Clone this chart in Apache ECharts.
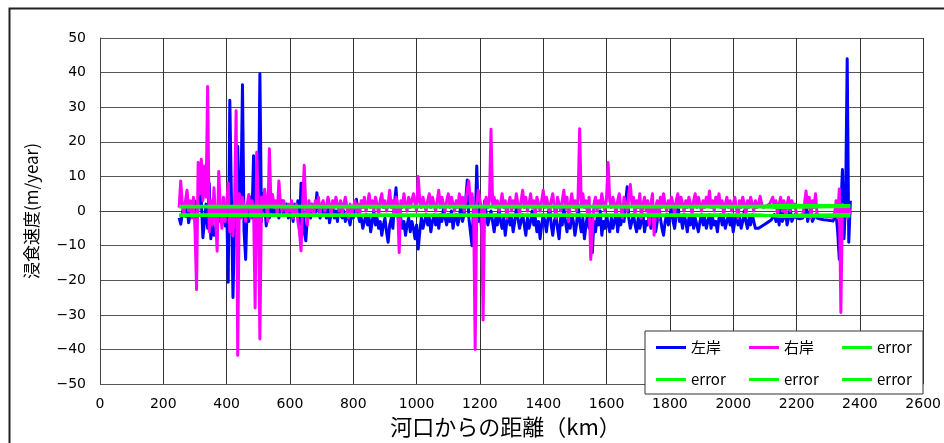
<!DOCTYPE html>
<html><head><meta charset="utf-8">
<script src="https://cdn.jsdelivr.net/npm/echarts@6/dist/echarts.min.js"></script>
<style>html,body{margin:0;padding:0;background:#fff}#c{width:944px;height:443px}</style>
</head><body><div id="c"></div>
<script>
// distance from river mouth (km): first point and spacing of the cross-sections
const kmStart = 250;
const kmStep = 5;

// 左岸 (left bank) erosion rate, m/year — one row = 100 km
const leftBank = [
  -2,-3.8,-1,2,-1.5,1,-3.4,-1,2.5,-2, 2.9,-3,1,13.5,3,-7.7,-3,2,-5,8,
  -8,-4,-7,-6,1,-3,2,-3.4,1.4,-4.3, 2,-20.6,32,4,-25,-3,5,18.7,-2,3,
  36.5,-5.8,-14,2,-3,4,-2,16,3,-10, -5.3,39.7,-3,5,2,-4.3,1,-2,3,0,
  -1,2,1,-2,1,3,-1,0,2,-2, -1,1,-3,2,-1,3,-4,8,2,-6,
  -8.6,-2,1,-2,2,0,-1,5.3,1,-2, 2,-1,1,-2,1,-3.4,-1,1,-2,0,
  -3,1,-1,-2,0,-3,-1,-2,-4,0, -2,1,3.4,-1,-3,-2,-5,-3,-1,-4,
  -2,-6,-3,0,-4,-2,-5,-3,-7,-4, -2,-6,-9,-4,-2,-5,2,6.7,-1,-4,
  -2,-5,-3,-7,-4,-2,-6,-3,-5,-8, -4,-11,-6,-2,-5,-3,-1,-4,-2,-6,
  -3,-1,-4,-2,-5,-1,-3,1,-2,-4, -1,-3,0,-5,-2,-1,-4,-2,2,-3,
  -1,3,9,-2,-6,-10,2,-4,13,-3, 1,-5,-2,3,-1,-4,-2,0,-3,-6,
  -2,-4,1,-3,-5,-2,-7,-3,-1,-4, -2,-6,-3,1,-2,-5,-3,-1,-4,-7,
  -2,-5,-3,0,-4,-2,-6,-3,-8,-4, -1,-3,-6,-2,2,-4,-7,-3,-1,-5,
  -8,-2,-4,1,-3,-6,-2,-5,-1,-3, -7,-4,2,-3,-6,-2,-8,-4,-1,-5,
  -2,-12,-3,-6,-2,-4,0,-7,-3,-5, -1,-4,-6,-2,-5,-3,0,-6,-2,-4,
  -1,-3,2,7,-2,-5,-3,-1,-4,-6, -2,-5,-3,-1,-6,-3,-4,-1,-5,-2,
  -4,-6,-3,1,-2,-5,-7,-3,-1,-4, -2,2,-3,-5,-1,3,-3,-2,-5,-1,
  -3,-6,-2,-4,-1,-5,-2,-4,-6,-3, -1,-4,-2,-5,-3,-1,-5,-2,-4,-3,
  -6,-2,-1,-4,-2,-5,-3,-1,-4,-2, -6,-3,-1,-4,-2,-5,-3,0,-3,-5,
  -2,-4,-1,-3,-5,-5.2,-5,-4.7,-4.4,-4.1, -3.8,-3.5,-3.2,-2.9,-2.6,-2.4,-1,-3,-1,-4,
  2,-3,-2,1,-4,-2,1,-3,-2,-1, -2,-2.2,-2.2,-2,-2,-1,2,-3,-1,1,
  -3,-2,-1,-2,-2.2,-2.3,-2.4,-2.5,-2.5,-2.6, -2.6,-2.7,-2.8,-2.9,-3,-1,-6,-14,1,12,
  -8,3,44,-9,3
];

// 右岸 (right bank) erosion rate, m/year — one row = 100 km
const rightBank = [
  1,8.7,2,-1,3,6,0,3,-2,4, -5,-22.7,14,5,15,3,13,4,36,-6,
  3,-4,6.7,-2,-11.6,11.4,1,-5,4,-3, 2,8,-6,1,-7.2,3,29,-41.7,5,-2,
  4,1,-3,2,4.8,-2,3,1,-28,17, 2,-37,4,1,6.3,2,-3,18,2,4.8,
  1,3,-1,8.7,2,0,3,1,-1,2, 0,3,-2,1,2,-3,-6,-11.5,2,13.2,
  1,-4,3,0,2,-1,3,1,4,-1, 2,3,0,1,4,2,-1,3,1,4,
  2,0,3,-1,2,4,1,-2,2,-1, 1,3,0,2,-1,3,1,4,0,2,
  5,1,3,0,4,2,-1,3,5,1, 3,0,2,6,1,3,-1,4,2,-12,
  3,1,5,2,0,4,1,3,5,2, 0,10,3,1,4,2,0,3,5,1,
  4,2,0,3,6,1,4,2,0,3, 5,1,4,2,0,3,1,5,2,4,
  0,3,6,8.7,2,5,1,-40,2,6, 3,1,-31.5,2,4,1,3,23.6,2,4,
  1,3,0,2,5,1,3,-2,2,4, 0,3,1,5,2,-1,3,6,1,4,
  0,2,5,1,3,-1,4,2,0,3, 6,1,4,2,0,3,5,1,-2,4,
  2,0,3,6,1,4,-3,2,5,1, 3,0,4,23.8,2,5,1,3,-1,4,
  -14,-6,2,4,0,3,1,5,2,0, 4,14,3,1,4,2,-1,3,5,1,
  -2,4,2,0,5,7.7,2,4,-1,3, 1,5,-2,2,4,0,3,-4,2,5,
  -7,1,3,-2,4,1,5,2,0,3, 1,4,2,-1,3,5,1,4,2,0,
  3,1,4,2,-1,3,5,1,4,2, 0,3,1,4,2,5.8,1,3,0,4,
  2,5,1,3,-1,2,4,1,3,0, 2,4,1,-2,3,1,4,2,-1,3,
  1,4,2,0,3,1,2,4.3,2,1, 1.5,1.5,2,2,3,4,1,3,-1,2,
  4,0,3,-1,2,4,0,3,1,2, -1,-1.2,-1.3,-1.2,-1,2,5.8,1,4,-2,
  3,1,5,-1,-1.5,-1.5,-1.5,-1.5,-1.6,-1.6, -1.6,-1.7,-1.7,-1.7,-1,3,-2,6.4,-29.3,2,
  -1,1,-2,1,-1
];

// error band lines (breakpoints in km and values in m/year)
const errKm  = [250, 2080, 2150, 2370];
const error1 = [1.4, 1.4, 1.7, 1.6];
const error2 = [-1.3, -1.3, -1.3, -1.0];
const error3 = [1.2, 1.2, 1.0, 1.3];
const error4 = [-1.1, -1.1, -1.6, -1.4];

const seriesNames = ['左岸', '右岸', 'error', 'error ', 'error  ', 'error   '];

const toPairs = arr => arr.map((v, i) => [kmStart + i * kmStep, v]);
const errPairs = arr => arr.map((v, i) => [errKm[i], v]);

const chart = echarts.init(document.getElementById('c'), null, {renderer: 'canvas'});
const numFont = 'DejaVu Sans';
const jpFont = 'Noto Sans CJK JP';

function lineSeries(name, data, color, width) {
  return {
    name, type: 'line', data, showSymbol: false, symbol: 'none',
    lineStyle: {color, width, join: 'round'}, itemStyle: {color}, animation: false, clip: true
  };
}

chart.setOption({
  animation: false,
  backgroundColor: '#fff',
  grid: {left: 100, right: 13, top: 38, bottom: 58, containLabel: false},
  graphic: [{
    type: 'rect', left: 7, top: 6, z: -1, silent: true,
    shape: {x: 0, y: 0, width: 1000, height: 1000},
    style: {fill: 'none', stroke: '#222', lineWidth: 2}
  }],
  xAxis: {
    type: 'value', min: 0, max: 2600, interval: 200,
    name: '河口からの距離（km）', nameLocation: 'middle', nameGap: 31,
    nameTextStyle: {fontFamily: jpFont, fontSize: 22, color: '#000', padding: [0, 12, 0, 0]},
    axisLine: {show: true, lineStyle: {color: '#444', width: 1}},
    axisTick: {show: false},
    axisLabel: {fontFamily: numFont, fontSize: 14, color: '#000', margin: 13,
      formatter: v => String(v)},
    splitLine: {show: true, lineStyle: {color: '#333', width: 1}}
  },
  yAxis: {
    type: 'value', min: -50, max: 50, interval: 10,
    name: '浸食速度(m/year)', nameLocation: 'middle', nameGap: 60, nameRotate: 90,
    nameTextStyle: {fontFamily: jpFont, fontSize: 17, color: '#000'},
    axisLine: {show: true, lineStyle: {color: '#444', width: 1}},
    axisTick: {show: false},
    axisLabel: {fontFamily: numFont, fontSize: 14, color: '#000', margin: 14,
      formatter: v => String(v).replace('-', '\u2212')},
    splitLine: {show: true, lineStyle: {color: '#555', width: 1.2}}
  },
  legend: {
    data: seriesNames,
    left: 645, top: 331, width: 270,
    orient: 'horizontal', icon: 'rect', itemWidth: 30, itemHeight: 3, itemGap: 13,
    padding: [7, 1, 5, 11],
    backgroundColor: '#fff', borderColor: '#333', borderWidth: 1,
    formatter: n => n.trim(),
    textStyle: {fontFamily: jpFont, fontSize: 15, color: '#000', width: 45, lineHeight: 19}
  },
  series: [
    lineSeries(seriesNames[0], toPairs(leftBank), '#0000FF', 3),
    lineSeries(seriesNames[1], toPairs(rightBank), '#FF00FF', 3),
    lineSeries(seriesNames[2], errPairs(error1), '#00FF00', 3),
    lineSeries(seriesNames[3], errPairs(error2), '#00FF00', 3),
    lineSeries(seriesNames[4], errPairs(error3), '#00FF00', 3),
    lineSeries(seriesNames[5], errPairs(error4), '#00FF00', 3)
  ]
});
</script></body></html>
